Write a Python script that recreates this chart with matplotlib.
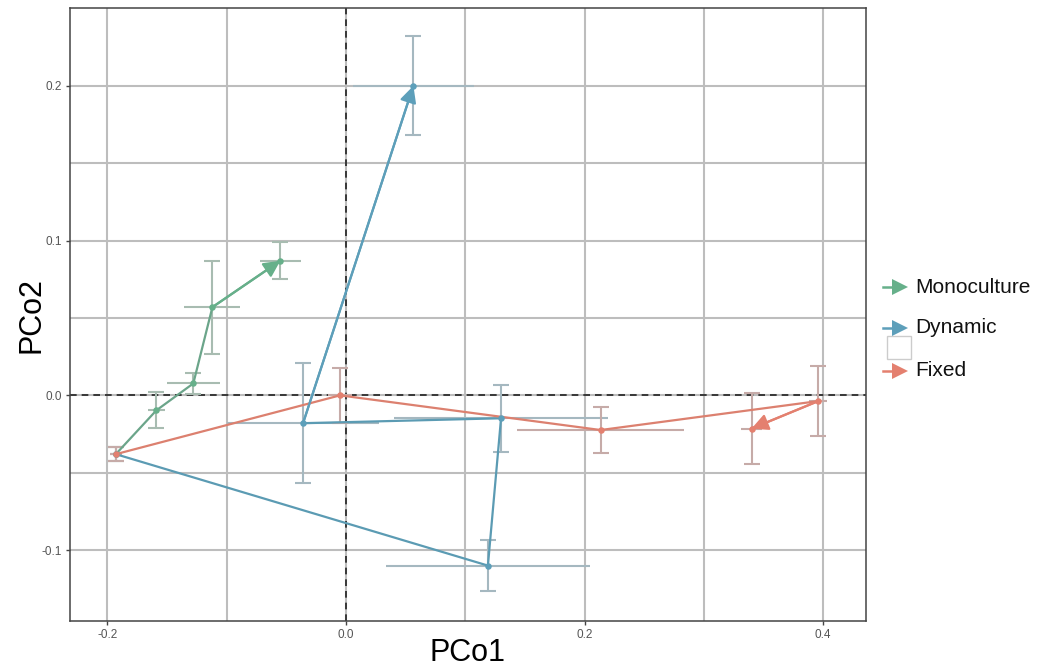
import matplotlib
matplotlib.use("Agg")
import matplotlib.pyplot as plt
from matplotlib.lines import Line2D
from matplotlib.patches import Rectangle
import numpy as np

plt.rcParams['font.family'] = ['Liberation Sans', 'DejaVu Sans']

# Trajectory data (PCo1, PCo2) with standard errors
groups = ["Monoculture", "Dynamic", "Fixed"]
colors = ["#66b08a", "#5d9fba", "#e4806f"]
line_colors = ["#6ba58a", "#5b9bb3", "#dc806f"]
err_colors = ["#a8bcb1", "#a5b8c0", "#c6aba8"]

mono_x = [-0.193, -0.159, -0.128, -0.112, -0.055]
mono_y = [-0.038, -0.0097, 0.0077, 0.057, 0.087]
mono_xerr = [0.005, 0.007, 0.022, 0.0235, 0.017]
mono_yerr = [0.0045, 0.0116, 0.0068, 0.030, 0.012]

dyn_x = [-0.193, 0.119, 0.130, -0.036, 0.0565]
dyn_y = [-0.038, -0.110, -0.0148, -0.018, 0.200]
dyn_xerr = [0.005, 0.0855, 0.09, 0.064, 0.051]
dyn_yerr = [0.0045, 0.0163, 0.0215, 0.0387, 0.032]

fix_x = [-0.193, -0.005, 0.2135, 0.396, 0.340]
fix_y = [-0.038, 0.0, -0.0224, -0.0037, -0.0215]
fix_xerr = [0.005, 0.01, 0.07, 0.0075, 0.009]
fix_yerr = [0.0045, 0.0177, 0.0146, 0.0228, 0.023]

series = [
    (mono_x, mono_y, mono_xerr, mono_yerr),
    (dyn_x, dyn_y, dyn_xerr, dyn_yerr),
    (fix_x, fix_y, fix_xerr, fix_yerr),
]

W, H = 1040, 669
fig = plt.figure(figsize=(10.4, 6.69), dpi=100)
ax = fig.add_axes([70 / W, 1 - 621 / H, (866 - 70) / W, (621 - 8) / H])

ax.set_xlim(-0.2314, 0.436)
ax.set_ylim(-0.1458, 0.2503)

ax.set_xticks([-0.2, 0.0, 0.2, 0.4])
ax.set_xticks(np.arange(-0.2, 0.41, 0.1), minor=True)
ax.set_yticks([-0.1, 0.0, 0.1, 0.2])
ax.set_yticks(np.arange(-0.1, 0.21, 0.05), minor=True)
ax.set_xticklabels(["-0.2", "0.0", "0.2", "0.4"])
ax.set_yticklabels(["-0.1", "0.0", "0.1", "0.2"])
ax.grid(True, which="both", color="#bdbdbd", lw=1.5)
ax.set_axisbelow(True)
ax.tick_params(which="major", length=3, width=1, color="#444444",
               labelsize=8.5, labelcolor="#555555", pad=3)
ax.tick_params(which="minor", length=0)
for s in ax.spines.values():
    s.set_color("#444444")
    s.set_linewidth(1.1)

ax.axhline(0, color="#222222", ls=(0, (4, 3)), lw=1.2, zorder=2)
ax.axvline(0, color="#222222", ls=(0, (4, 3)), lw=1.2, zorder=2)

for (x, y, xe, ye), ec in zip(series, err_colors):
    # horizontal spread without caps, vertical spread with caps
    ax.errorbar(x, y, xerr=xe, fmt="none", ecolor=ec,
                elinewidth=1.5, capsize=0, zorder=3)
    ax.errorbar(x, y, yerr=ye, fmt="none", ecolor=ec,
                elinewidth=1.5, capsize=6, capthick=1.5, zorder=3)
for (x, y, xe, ye), c, lc in zip(series, colors, line_colors):
    ax.plot(x, y, color=lc, lw=1.6, zorder=4)
    ax.annotate("", xy=(x[-1], y[-1]), xytext=(x[-2], y[-2]),
                arrowprops=dict(arrowstyle="-|>,head_length=0.5,head_width=0.25",
                                color=c, lw=1.6, mutation_scale=20,
                                shrinkA=0, shrinkB=0),
                zorder=5)
    ax.scatter(x, y, s=22, color=c, zorder=5, linewidths=0)

# Axis titles
fig.text((70 + 866) / 2 / W, 1 - 661 / H, "PCo1", fontsize=22,
         ha="center", va="baseline")
fig.text(31 / W, 1 - 315 / H, "PCo2", fontsize=22, rotation=90,
         ha="center", va="center")

# Legend drawn with arrow keys
legend_y = [287, 328, 371]
for name, c, ly in zip(groups, colors, legend_y):
    fy = 1 - ly / H
    fig.add_artist(Line2D([883 / W, 897 / W], [fy, fy], color=c, lw=1.8))
    fig.add_artist(Line2D([900 / W], [fy], marker=">", markersize=11,
                          color=c, markeredgewidth=0))
    fig.text(915 / W, fy, name, fontsize=15, va="center", ha="left",
             color="#111111")
fig.add_artist(Rectangle((887 / W, 1 - 359 / H), 24 / W, 23 / H,
                         facecolor="white", edgecolor="#cccccc", lw=1))

fig.savefig("out.png", dpi=100)
